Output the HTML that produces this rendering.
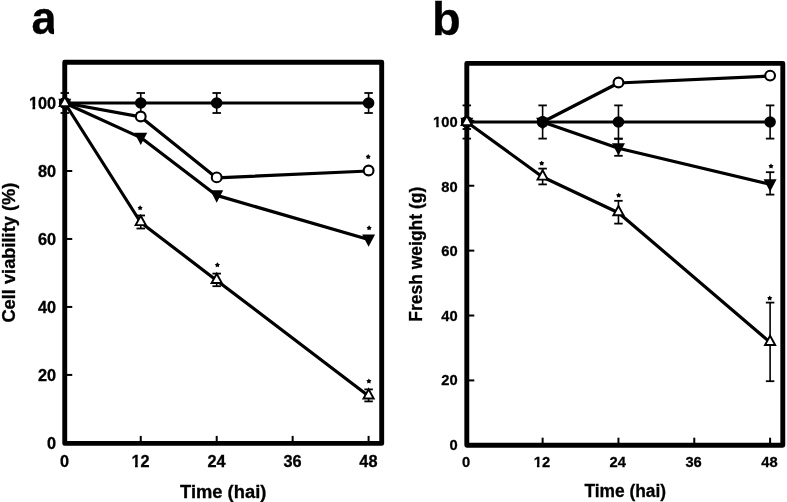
<!DOCTYPE html>
<html><head><meta charset="utf-8"><style>
html,body{margin:0;padding:0;background:#fff;}
body{width:787px;height:502px;overflow:hidden;}
svg{display:block;will-change:transform;}
text{font-family:"Liberation Sans",sans-serif;font-weight:bold;fill:#000;stroke:#000;stroke-width:0.3px;}
</style></head><body>
<svg width="787" height="502" viewBox="0 0 787 502">
<rect width="787" height="502" fill="#fff"/>
<path d="M64.75 62.25 L381.7 62.25 L381.7 443.4 L64.75 443.4Z" fill="none" stroke="#000" stroke-width="4.9" stroke-linejoin="round"/>
<line x1="140.75" y1="435.9" x2="140.75" y2="443.4" stroke="#000" stroke-width="2"/>
<line x1="216.7" y1="435.9" x2="216.7" y2="443.4" stroke="#000" stroke-width="2"/>
<line x1="292.65" y1="435.9" x2="292.65" y2="443.4" stroke="#000" stroke-width="2"/>
<line x1="368.6" y1="435.9" x2="368.6" y2="443.4" stroke="#000" stroke-width="2"/>
<line x1="64.75" y1="374.92" x2="72.25" y2="374.92" stroke="#000" stroke-width="2"/>
<line x1="64.75" y1="306.94" x2="72.25" y2="306.94" stroke="#000" stroke-width="2"/>
<line x1="64.75" y1="238.96" x2="72.25" y2="238.96" stroke="#000" stroke-width="2"/>
<line x1="64.75" y1="170.98" x2="72.25" y2="170.98" stroke="#000" stroke-width="2"/>
<line x1="64.75" y1="103" x2="72.25" y2="103" stroke="#000" stroke-width="2"/>
<path d="M466.8 63.4 L782.8 63.4 L782.8 445.2 L466.8 445.2Z" fill="none" stroke="#000" stroke-width="4.9" stroke-linejoin="round"/>
<line x1="542.62" y1="437.7" x2="542.62" y2="445.2" stroke="#000" stroke-width="2"/>
<line x1="618.45" y1="437.7" x2="618.45" y2="445.2" stroke="#000" stroke-width="2"/>
<line x1="694.28" y1="437.7" x2="694.28" y2="445.2" stroke="#000" stroke-width="2"/>
<line x1="770.1" y1="437.7" x2="770.1" y2="445.2" stroke="#000" stroke-width="2"/>
<line x1="466.8" y1="380.41" x2="474.3" y2="380.41" stroke="#000" stroke-width="2"/>
<line x1="466.8" y1="315.52" x2="474.3" y2="315.52" stroke="#000" stroke-width="2"/>
<line x1="466.8" y1="250.63" x2="474.3" y2="250.63" stroke="#000" stroke-width="2"/>
<line x1="466.8" y1="185.74" x2="474.3" y2="185.74" stroke="#000" stroke-width="2"/>
<line x1="466.8" y1="120.85" x2="474.3" y2="120.85" stroke="#000" stroke-width="2"/>
<text x="0" y="0" font-size="16.3" text-anchor="end" transform="translate(56.1 449.1) scale(1 1)">0</text>
<text x="0" y="0" font-size="16.3" text-anchor="end" transform="translate(56.1 381) scale(1 1)">20</text>
<text x="0" y="0" font-size="16.3" text-anchor="end" transform="translate(56.1 312.9) scale(1 1)">40</text>
<text x="0" y="0" font-size="16.3" text-anchor="end" transform="translate(56.1 244.8) scale(1 1)">60</text>
<text x="0" y="0" font-size="16.3" text-anchor="end" transform="translate(56.1 176.7) scale(1 1)">80</text>
<text x="0" y="0" font-size="16.3" text-anchor="end" transform="translate(56.1 108.6) scale(1 1)">100</text>
<text x="0" y="0" font-size="16.3" text-anchor="middle" transform="translate(64.6 466.8) scale(1 1)">0</text>
<text x="0" y="0" font-size="16.3" text-anchor="middle" transform="translate(140.55 466.8) scale(1 1)">12</text>
<text x="0" y="0" font-size="16.3" text-anchor="middle" transform="translate(216.5 466.8) scale(1 1)">24</text>
<text x="0" y="0" font-size="16.3" text-anchor="middle" transform="translate(292.45 466.8) scale(1 1)">36</text>
<text x="0" y="0" font-size="16.3" text-anchor="middle" transform="translate(368.4 466.8) scale(1 1)">48</text>
<text x="0" y="0" font-size="15.5" text-anchor="end" transform="translate(457.6 450.01) scale(0.95 1)">0</text>
<text x="0" y="0" font-size="15.5" text-anchor="end" transform="translate(457.6 385.46) scale(0.95 1)">20</text>
<text x="0" y="0" font-size="15.5" text-anchor="end" transform="translate(457.6 320.91) scale(0.95 1)">40</text>
<text x="0" y="0" font-size="15.5" text-anchor="end" transform="translate(457.6 256.35) scale(0.95 1)">60</text>
<text x="0" y="0" font-size="15.5" text-anchor="end" transform="translate(457.6 191.8) scale(0.95 1)">80</text>
<text x="0" y="0" font-size="15.5" text-anchor="end" transform="translate(457.6 127.25) scale(0.95 1)">100</text>
<text x="0" y="0" font-size="15.5" text-anchor="middle" transform="translate(466.1 466.8) scale(0.95 1)">0</text>
<text x="0" y="0" font-size="15.5" text-anchor="middle" transform="translate(541.92 466.8) scale(0.95 1)">12</text>
<text x="0" y="0" font-size="15.5" text-anchor="middle" transform="translate(617.75 466.8) scale(0.95 1)">24</text>
<text x="0" y="0" font-size="15.5" text-anchor="middle" transform="translate(693.58 466.8) scale(0.95 1)">36</text>
<text x="0" y="0" font-size="15.5" text-anchor="middle" transform="translate(769.4 466.8) scale(0.95 1)">48</text>
<rect x="28.63" y="105.94" width="3.83" height="4.16" fill="#fff"/>
<rect x="35.2" y="105.94" width="2.92" height="4.16" fill="#fff"/>
<rect x="131.21" y="464.14" width="3.83" height="4.16" fill="#fff"/>
<rect x="137.78" y="464.14" width="2.92" height="4.16" fill="#fff"/>
<rect x="432.66" y="124.67" width="3.56" height="4.08" fill="#fff"/>
<rect x="438.74" y="124.67" width="2.67" height="4.08" fill="#fff"/>
<rect x="533.36" y="464.22" width="3.56" height="4.08" fill="#fff"/>
<rect x="539.44" y="464.22" width="2.67" height="4.08" fill="#fff"/>
<text x="223.2" y="497.7" font-size="18" text-anchor="middle" textLength="86.3" lengthAdjust="spacingAndGlyphs">Time (hai)</text>
<text x="625.2" y="497.3" font-size="18" text-anchor="middle" textLength="81.6" lengthAdjust="spacingAndGlyphs">Time (hai)</text>
<text x="0" y="0" font-size="18" text-anchor="middle" transform="translate(15.3 252.6) rotate(-90)" textLength="140" lengthAdjust="spacingAndGlyphs">Cell viability (%)</text>
<text x="0" y="0" font-size="18" text-anchor="middle" transform="translate(422.0 254.2) rotate(-90)" textLength="135" lengthAdjust="spacingAndGlyphs">Fresh weight (g)</text>
<text x="0" y="0" font-size="46" transform="translate(31.6 33.8) scale(0.98 1)">a</text>
<rect x="54.05" y="25.2" width="6" height="10" fill="#fff"/>
<text x="432" y="34.5" font-size="47" text-anchor="start">b</text>
<path d="M64.8 103 L140.75 103 L216.7 103 L368.6 103" fill="none" stroke="#000" stroke-width="3.2" stroke-linejoin="round"/>
<path d="M64.8 103 L140.75 116.9 L216.7 177.9 L368.6 171" fill="none" stroke="#000" stroke-width="3.2" stroke-linejoin="round"/>
<path d="M64.8 103 L140.75 137.6 L216.7 195.4 L368.6 239.5" fill="none" stroke="#000" stroke-width="3.2" stroke-linejoin="round"/>
<path d="M64.8 103 L140.75 222.5 L216.7 280.4 L368.6 395.9" fill="none" stroke="#000" stroke-width="3.2" stroke-linejoin="round"/>
<line x1="64.8" y1="93" x2="64.8" y2="113" stroke="#000" stroke-width="1.6"/>
<line x1="60.55" y1="93" x2="69.05" y2="93" stroke="#000" stroke-width="1.8"/>
<line x1="60.55" y1="113" x2="69.05" y2="113" stroke="#000" stroke-width="1.8"/>
<line x1="140.75" y1="93" x2="140.75" y2="113" stroke="#000" stroke-width="1.6"/>
<line x1="136.5" y1="93" x2="145" y2="93" stroke="#000" stroke-width="1.8"/>
<line x1="136.5" y1="113" x2="145" y2="113" stroke="#000" stroke-width="1.8"/>
<line x1="216.7" y1="93" x2="216.7" y2="113" stroke="#000" stroke-width="1.6"/>
<line x1="212.45" y1="93" x2="220.95" y2="93" stroke="#000" stroke-width="1.8"/>
<line x1="212.45" y1="113" x2="220.95" y2="113" stroke="#000" stroke-width="1.8"/>
<line x1="368.6" y1="93" x2="368.6" y2="113" stroke="#000" stroke-width="1.6"/>
<line x1="364.35" y1="93" x2="372.85" y2="93" stroke="#000" stroke-width="1.8"/>
<line x1="364.35" y1="113" x2="372.85" y2="113" stroke="#000" stroke-width="1.8"/>
<line x1="140.75" y1="215.5" x2="140.75" y2="228.5" stroke="#000" stroke-width="1.6"/>
<line x1="136.5" y1="215.5" x2="145" y2="215.5" stroke="#000" stroke-width="1.8"/>
<line x1="136.5" y1="228.5" x2="145" y2="228.5" stroke="#000" stroke-width="1.8"/>
<line x1="216.7" y1="273.6" x2="216.7" y2="286.2" stroke="#000" stroke-width="1.6"/>
<line x1="212.45" y1="273.6" x2="220.95" y2="273.6" stroke="#000" stroke-width="1.8"/>
<line x1="212.45" y1="286.2" x2="220.95" y2="286.2" stroke="#000" stroke-width="1.8"/>
<line x1="368.6" y1="389.4" x2="368.6" y2="401.4" stroke="#000" stroke-width="1.6"/>
<line x1="364.35" y1="389.4" x2="372.85" y2="389.4" stroke="#000" stroke-width="1.8"/>
<line x1="364.35" y1="401.4" x2="372.85" y2="401.4" stroke="#000" stroke-width="1.8"/>
<circle cx="64.8" cy="103" r="5.8" fill="#000"/>
<circle cx="140.75" cy="103" r="5.8" fill="#000"/>
<circle cx="216.7" cy="103" r="5.8" fill="#000"/>
<circle cx="368.6" cy="103" r="5.8" fill="#000"/>
<circle cx="64.8" cy="103" r="4.9" fill="#fff" stroke="#000" stroke-width="2.1"/>
<circle cx="140.75" cy="116.5" r="4.9" fill="#fff" stroke="#000" stroke-width="2.1"/>
<circle cx="216.7" cy="177.4" r="4.9" fill="#fff" stroke="#000" stroke-width="2.1"/>
<circle cx="368.6" cy="170.5" r="4.9" fill="#fff" stroke="#000" stroke-width="2.1"/>
<path d="M58.3 98.87 L71.3 98.87 L64.8 111.27Z" fill="#000"/>
<path d="M134.25 132.67 L147.25 132.67 L140.75 145.07Z" fill="#000"/>
<path d="M210.2 190.37 L223.2 190.37 L216.7 202.77Z" fill="#000"/>
<path d="M362.1 234.47 L375.1 234.47 L368.6 246.87Z" fill="#000"/>
<path d="M64.8 96.8 L69.9 106.1 L59.7 106.1Z" fill="#fff" stroke="#000" stroke-width="1.9" stroke-linejoin="miter"/>
<path d="M140.75 215.8 L145.85 225.1 L135.65 225.1Z" fill="#fff" stroke="#000" stroke-width="1.9" stroke-linejoin="miter"/>
<path d="M216.7 273.7 L221.8 283 L211.6 283Z" fill="#fff" stroke="#000" stroke-width="1.9" stroke-linejoin="miter"/>
<path d="M368.6 389.2 L373.7 398.5 L363.5 398.5Z" fill="#fff" stroke="#000" stroke-width="1.9" stroke-linejoin="miter"/>
<path d="M140.1 205.3 L141.05 206.69 L142.67 207.17 L141.64 208.5 L141.69 210.18 L140.1 209.62 L138.51 210.18 L138.56 208.5 L137.53 207.17 L139.15 206.69Z" fill="#000"/>
<path d="M217.4 262.3 L218.35 263.69 L219.97 264.17 L218.94 265.5 L218.99 267.18 L217.4 266.62 L215.81 267.18 L215.86 265.5 L214.83 264.17 L216.45 263.69Z" fill="#000"/>
<path d="M368.9 378.5 L369.85 379.89 L371.47 380.37 L370.44 381.7 L370.49 383.38 L368.9 382.82 L367.31 383.38 L367.36 381.7 L366.33 380.37 L367.95 379.89Z" fill="#000"/>
<path d="M368.2 154.1 L369.15 155.49 L370.77 155.97 L369.74 157.3 L369.79 158.98 L368.2 158.42 L366.61 158.98 L366.66 157.3 L365.63 155.97 L367.25 155.49Z" fill="#000"/>
<path d="M369.1 225.3 L370.05 226.69 L371.67 227.17 L370.64 228.5 L370.69 230.18 L369.1 229.62 L367.51 230.18 L367.56 228.5 L366.53 227.17 L368.15 226.69Z" fill="#000"/>
<path d="M466.8 122 L542.62 122 L618.45 122 L770.1 122" fill="none" stroke="#000" stroke-width="3.2" stroke-linejoin="round"/>
<path d="M542.62 122 L618.45 83 L770.1 76.1" fill="none" stroke="#000" stroke-width="3.2" stroke-linejoin="round"/>
<path d="M542.62 122 L618.45 148.2 L770.1 184.3" fill="none" stroke="#000" stroke-width="3.2" stroke-linejoin="round"/>
<path d="M466.8 122 L542.62 177 L618.45 212.7 L770.1 342.4" fill="none" stroke="#000" stroke-width="3.2" stroke-linejoin="round"/>
<line x1="466.8" y1="105.4" x2="466.8" y2="138.6" stroke="#000" stroke-width="1.6"/>
<line x1="462.55" y1="105.4" x2="471.05" y2="105.4" stroke="#000" stroke-width="1.8"/>
<line x1="462.55" y1="138.6" x2="471.05" y2="138.6" stroke="#000" stroke-width="1.8"/>
<line x1="542.62" y1="105.4" x2="542.62" y2="138.6" stroke="#000" stroke-width="1.6"/>
<line x1="538.38" y1="105.4" x2="546.88" y2="105.4" stroke="#000" stroke-width="1.8"/>
<line x1="538.38" y1="138.6" x2="546.88" y2="138.6" stroke="#000" stroke-width="1.8"/>
<line x1="618.45" y1="105.4" x2="618.45" y2="138.6" stroke="#000" stroke-width="1.6"/>
<line x1="614.2" y1="105.4" x2="622.7" y2="105.4" stroke="#000" stroke-width="1.8"/>
<line x1="614.2" y1="138.6" x2="622.7" y2="138.6" stroke="#000" stroke-width="1.8"/>
<line x1="770.1" y1="105.4" x2="770.1" y2="138.6" stroke="#000" stroke-width="1.6"/>
<line x1="765.85" y1="105.4" x2="774.35" y2="105.4" stroke="#000" stroke-width="1.8"/>
<line x1="765.85" y1="138.6" x2="774.35" y2="138.6" stroke="#000" stroke-width="1.8"/>
<line x1="618.45" y1="138.8" x2="618.45" y2="155.8" stroke="#000" stroke-width="1.6"/>
<line x1="614.2" y1="138.8" x2="622.7" y2="138.8" stroke="#000" stroke-width="1.8"/>
<line x1="614.2" y1="155.8" x2="622.7" y2="155.8" stroke="#000" stroke-width="1.8"/>
<line x1="770.1" y1="172.2" x2="770.1" y2="194.6" stroke="#000" stroke-width="1.6"/>
<line x1="765.85" y1="172.2" x2="774.35" y2="172.2" stroke="#000" stroke-width="1.8"/>
<line x1="765.85" y1="194.6" x2="774.35" y2="194.6" stroke="#000" stroke-width="1.8"/>
<line x1="462.55" y1="129" x2="471.05" y2="129" stroke="#000" stroke-width="1.8"/>
<line x1="542.62" y1="168.6" x2="542.62" y2="184.4" stroke="#000" stroke-width="1.6"/>
<line x1="538.38" y1="168.6" x2="546.88" y2="168.6" stroke="#000" stroke-width="1.8"/>
<line x1="538.38" y1="184.4" x2="546.88" y2="184.4" stroke="#000" stroke-width="1.8"/>
<line x1="618.45" y1="200.8" x2="618.45" y2="223.6" stroke="#000" stroke-width="1.6"/>
<line x1="614.2" y1="200.8" x2="622.7" y2="200.8" stroke="#000" stroke-width="1.8"/>
<line x1="614.2" y1="223.6" x2="622.7" y2="223.6" stroke="#000" stroke-width="1.8"/>
<line x1="770.1" y1="302.6" x2="770.1" y2="381.2" stroke="#000" stroke-width="1.6"/>
<line x1="765.85" y1="302.6" x2="774.35" y2="302.6" stroke="#000" stroke-width="1.8"/>
<line x1="765.85" y1="381.2" x2="774.35" y2="381.2" stroke="#000" stroke-width="1.8"/>
<circle cx="466.8" cy="122" r="4.9" fill="#fff" stroke="#000" stroke-width="2.1"/>
<circle cx="542.62" cy="122" r="4.9" fill="#fff" stroke="#000" stroke-width="2.1"/>
<circle cx="618.45" cy="82.5" r="4.9" fill="#fff" stroke="#000" stroke-width="2.1"/>
<circle cx="770.1" cy="75.6" r="4.9" fill="#fff" stroke="#000" stroke-width="2.1"/>
<circle cx="466.8" cy="122" r="5.8" fill="#000"/>
<circle cx="542.62" cy="122" r="5.8" fill="#000"/>
<circle cx="618.45" cy="122" r="5.8" fill="#000"/>
<circle cx="770.1" cy="122" r="5.8" fill="#000"/>
<path d="M460.3 117.87 L473.3 117.87 L466.8 130.27Z" fill="#000"/>
<path d="M536.12 117.87 L549.12 117.87 L542.62 130.27Z" fill="#000"/>
<path d="M611.95 143.17 L624.95 143.17 L618.45 155.57Z" fill="#000"/>
<path d="M763.6 179.27 L776.6 179.27 L770.1 191.67Z" fill="#000"/>
<path d="M466.8 115.8 L471.9 125.1 L461.7 125.1Z" fill="#fff" stroke="#000" stroke-width="1.9" stroke-linejoin="miter"/>
<path d="M542.62 170.3 L547.73 179.6 L537.52 179.6Z" fill="#fff" stroke="#000" stroke-width="1.9" stroke-linejoin="miter"/>
<path d="M618.45 206 L623.55 215.3 L613.35 215.3Z" fill="#fff" stroke="#000" stroke-width="1.9" stroke-linejoin="miter"/>
<path d="M770.1 335.7 L775.2 345 L765 345Z" fill="#fff" stroke="#000" stroke-width="1.9" stroke-linejoin="miter"/>
<path d="M541.7 160.7 L542.65 162.09 L544.27 162.57 L543.24 163.9 L543.29 165.58 L541.7 165.02 L540.11 165.58 L540.16 163.9 L539.13 162.57 L540.75 162.09Z" fill="#000"/>
<path d="M618.7 192.7 L619.65 194.09 L621.27 194.57 L620.24 195.9 L620.29 197.58 L618.7 197.02 L617.11 197.58 L617.16 195.9 L616.13 194.57 L617.75 194.09Z" fill="#000"/>
<path d="M769.7 295.5 L770.65 296.89 L772.27 297.37 L771.24 298.7 L771.29 300.38 L769.7 299.82 L768.11 300.38 L768.16 298.7 L767.13 297.37 L768.75 296.89Z" fill="#000"/>
<path d="M771 163.5 L771.95 164.89 L773.57 165.37 L772.54 166.7 L772.59 168.38 L771 167.82 L769.41 168.38 L769.46 166.7 L768.43 165.37 L770.05 164.89Z" fill="#000"/>
</svg></body></html>
